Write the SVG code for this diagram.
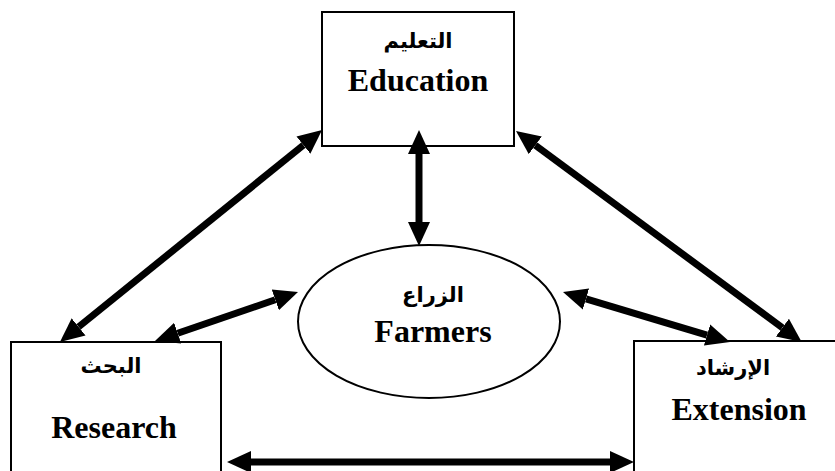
<svg xmlns="http://www.w3.org/2000/svg" width="835" height="471" viewBox="0 0 835 471">
<style>
.box{fill:#fff;stroke:#000;stroke-width:2}
.en{font-family:"Liberation Serif","Times New Roman",serif;font-weight:bold;font-size:32px;fill:#000;text-anchor:middle}
.ar{font-family:"Liberation Serif","DejaVu Sans",serif;font-weight:bold;font-size:21px;fill:#000;text-anchor:middle}
.arr{stroke:#000;stroke-width:7;fill:none;marker-start:url(#head);marker-end:url(#head)}
</style>
<defs>
<marker id="head" markerUnits="userSpaceOnUse" markerWidth="26" markerHeight="24" refX="0" refY="11" orient="auto-start-reverse" viewBox="0 0 26 22">
<path d="M0,0 L24,11 L0,22 z" fill="#000"/>
</marker>
</defs>
<rect width="835" height="471" fill="#fff"/>
<g id="education">
<rect class="box" x="322" y="12" width="192" height="134"/>
<text class="ar" x="418" y="48" direction="rtl">التعليم</text>
<text class="en" x="418" y="91">Education</text>
</g>
<g id="research">
<rect class="box" x="11" y="342" width="210" height="140"/>
<text class="ar" x="111" y="373" direction="rtl">البحث</text>
<text class="en" x="114" y="438">Research</text>
</g>
<g id="extension">
<rect class="box" x="634" y="341" width="210" height="140"/>
<text class="ar" x="733" y="375" direction="rtl">الإرشاد</text>
<text class="en" x="739" y="420">Extension</text>
</g>
<g id="farmers">
<ellipse class="box" cx="429" cy="321.5" rx="131" ry="76.5"/>
<text class="ar" x="433" y="302" direction="rtl">الزراع</text>
<text class="en" x="433" y="342">Farmers</text>
</g>
<g id="connectors">
<line class="arr" x1="303.4" y1="145.1" x2="78.6" y2="326.9"/>
<line class="arr" x1="535.3" y1="145.3" x2="782.4" y2="327.7"/>
<line class="arr" x1="419" y1="154" x2="419" y2="222"/>
<line class="arr" x1="275.3" y1="299.8" x2="177.7" y2="333.2"/>
<line class="arr" x1="586" y1="298.9" x2="707" y2="335.1"/>
<line class="arr" x1="251" y1="462" x2="610" y2="462"/>
</g>
</svg>
